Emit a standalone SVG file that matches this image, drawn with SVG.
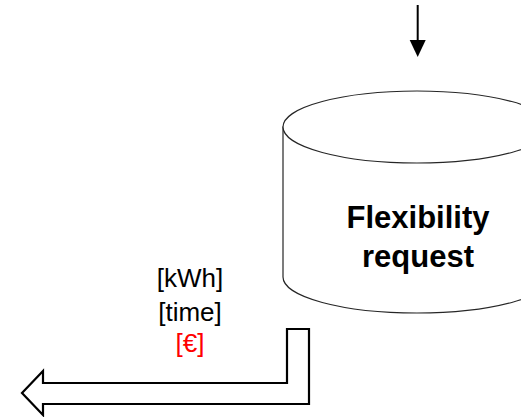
<svg xmlns="http://www.w3.org/2000/svg" width="521" height="417" viewBox="0 0 521 417">
  <style>
    .cyl { fill: #ffffff; stroke: #262626; stroke-width: 1.2; }
    .title { font-family: "Liberation Sans", Arial, sans-serif; font-weight: bold; font-size: 31px; fill: #000000; text-anchor: middle; }
    .label { font-family: "Liberation Sans", Arial, sans-serif; font-size: 26px; fill: #000000; text-anchor: middle; }
    .red { fill: #ff0000; }
    .line { stroke: #000000; stroke-width: 2; fill: none; }
    .bigarrow { fill: #ffffff; stroke: #000000; stroke-width: 2.2; stroke-linejoin: miter; }
  </style>
  <rect width="521" height="417" fill="#ffffff"/>
  <g id="connectors">
    <line class="line" x1="417.7" y1="5" x2="417.7" y2="42"/>
    <path d="M409.7,40 L425.7,40 L417.7,57 Z" fill="#000000"/>
    <polygon class="bigarrow" points="22,393 43,371 43,383 287,383 287,329 309,329 309,404 43,404 43,415"/>
  </g>
  <g id="flexibility-request">
    <path class="cyl" d="M283,127 L283,277 A134,36 0 0 0 551,277 L551,127 Z"/>
    <ellipse class="cyl" cx="417" cy="127" rx="134" ry="36"/>
    <text class="title" x="418" y="228">Flexibility</text>
    <text class="title" x="418" y="267">request</text>
  </g>
  <g id="labels">
    <text class="label" x="190" y="287">[kWh]</text>
    <text class="label" x="190" y="321">[time]</text>
    <text class="label red" x="190" y="352">[€]</text>
  </g>
</svg>
